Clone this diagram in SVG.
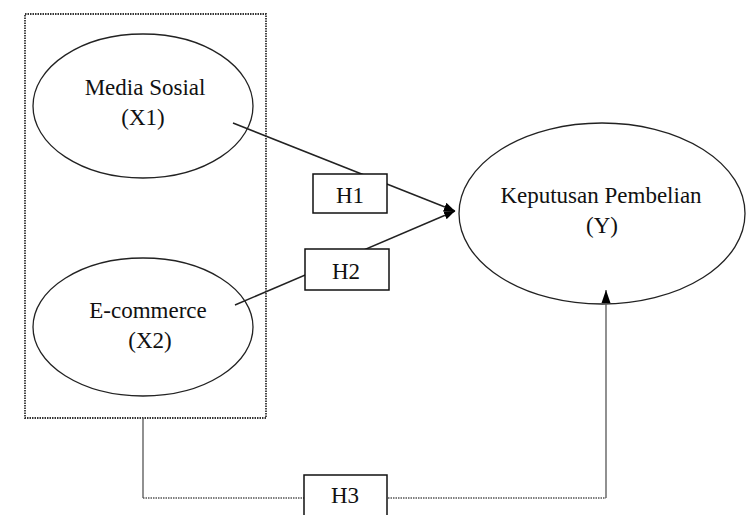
<svg xmlns="http://www.w3.org/2000/svg" width="751" height="515" viewBox="0 0 751 515">
<style>
.node{fill:none;stroke:#222;stroke-width:1.3}
.box{fill:#fff;stroke:#111;stroke-width:1.5}
.lbl{font-family:"Liberation Serif","Times New Roman",serif;font-size:23px;fill:#111;text-anchor:middle}
.conn{fill:none;stroke:#222;stroke-width:1.5}
.dot{fill:none;stroke:#333;stroke-width:1.8;stroke-dasharray:1.5,1}
.hdot{fill:none;stroke:#555;stroke-width:1.5;stroke-dasharray:1.5,1}
.thin{fill:none;stroke:#555;stroke-width:1.3}
</style>
<defs>
<marker id="ah" viewBox="0 0 10 10" refX="10" refY="5" markerWidth="11" markerHeight="11" markerUnits="userSpaceOnUse" orient="auto">
<path d="M0,1 L10,5 L0,9 Z" fill="#000"/>
</marker>
<marker id="ah2" viewBox="0 0 13 10" refX="13" refY="5" markerWidth="13" markerHeight="10" markerUnits="userSpaceOnUse" orient="auto">
<path d="M0,0.5 L13,5 L0,9.5 Z" fill="#000"/>
</marker>
</defs>
<g id="group-x">
<rect class="dot" x="25" y="14" width="241" height="404"/>
</g>
<g id="x1">
<ellipse class="node" cx="143" cy="106" rx="110" ry="72"/>
<text class="lbl" x="145" y="95">Media Sosial</text>
<text class="lbl" x="143" y="125">(X1)</text>
</g>
<g id="x2">
<ellipse class="node" cx="143" cy="327" rx="110" ry="69"/>
<text class="lbl" x="148" y="318">E-commerce</text>
<text class="lbl" x="150" y="348">(X2)</text>
</g>
<g id="y">
<ellipse class="node" cx="602" cy="213.5" rx="143" ry="90.5"/>
<text class="lbl" x="601" y="203">Keputusan Pembelian</text>
<text class="lbl" x="602" y="233">(Y)</text>
</g>
<g id="connectors">
<line class="conn" x1="233" y1="123" x2="455" y2="211" marker-end="url(#ah)"/>
<line class="conn" x1="235" y1="305" x2="455" y2="211" marker-end="url(#ah)"/>
<path class="thin" d="M143,418 V498"/>
<path class="hdot" d="M143,498 H606"/>
<path class="thin" d="M606,498 V290" marker-end="url(#ah2)"/>
</g>
<g id="h1">
<rect class="box" x="313" y="174" width="74" height="39"/>
<text class="lbl" x="350" y="203">H1</text>
</g>
<g id="h2">
<rect class="box" x="305" y="249" width="84" height="41"/>
<text class="lbl" x="346" y="279">H2</text>
</g>
<g id="h3">
<rect class="box" x="304" y="475" width="83" height="45"/>
<text class="lbl" x="345" y="503">H3</text>
</g>
</svg>
